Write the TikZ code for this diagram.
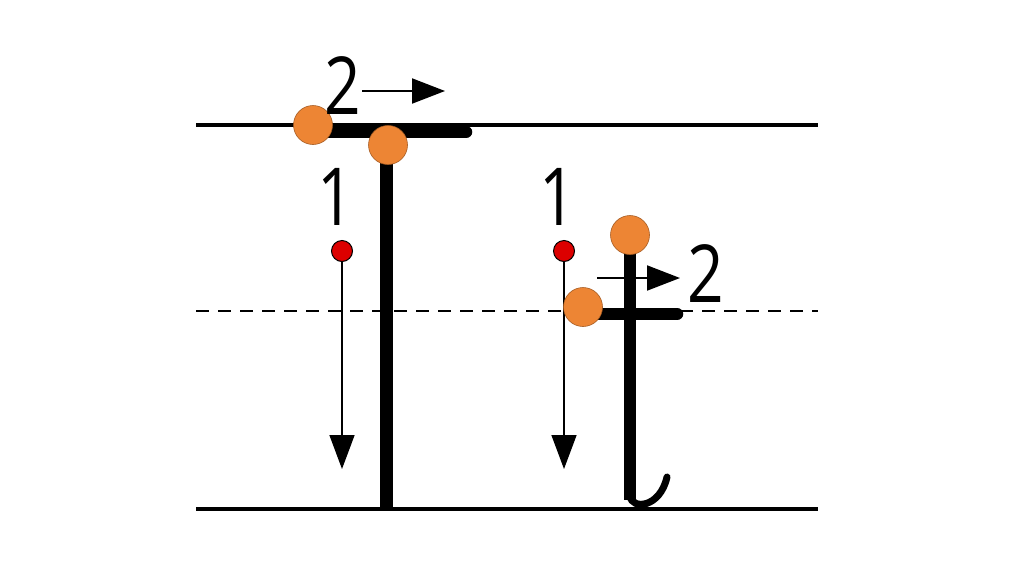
\documentclass[tikz,border=0pt]{standalone}
\usepackage{fontspec}
\setmainfont{Open Sans}
\usetikzlibrary{arrows.meta}
\definecolor{dotorange}{RGB}{237,133,52}
\definecolor{dotred}{RGB}{220,0,0}
\newcommand{\narrowdigit}[1]{\scalebox{0.8}[1]{#1}}
\tikzset{
  guide/.style={line width=4pt},
  dashguide/.style={line width=1.5pt, dash pattern=on 13pt off 9pt},
  stroke/.style={line width=12.5pt},
  orangedot/.style={circle, fill=dotorange, draw=dotorange!70!black, line width=0.6pt, minimum size=39pt, inner sep=0pt},
  reddot/.style={circle, fill=dotred, draw=black, line width=1pt, minimum size=21pt, inner sep=0pt},
  digit/.style={font=\fontsize{80}{80}\selectfont, inner sep=0pt},
  downarrow/.style={line width=1.5pt, -{Triangle[length=34pt, width=25pt]}},
  rightarrow/.style={line width=2pt, -{Triangle[length=33pt, width=25pt]}},
}
\begin{document}
\begin{tikzpicture}[x=1pt,y=-1pt]
\useasboundingbox (0,0) rectangle (1024,574);
% guide lines
\draw[guide] (196,125) -- (818,125);
\draw[guide] (196,509) -- (818,509);
\draw[dashguide] (196,311) -- (818,311);
% left letter
\draw[stroke, line cap=round] (318,132) -- (466,132);
\draw[stroke] (386.5,145) -- (386.5,509);
\node[orangedot] (o1) at (313,125) {};
\node[orangedot] (o2) at (388,145) {};
\node[digit] (n2a) at (343,86) {\narrowdigit{2}};
\coordinate (a2s) at (362,91);
\coordinate (a2e) at (445,91);
\draw[rightarrow] (a2s) -- (a2e);
\node[digit] (n1a) at (336,197) {\narrowdigit{1}};
\node[reddot] (r1) at (342,251) {};
\coordinate (d1e) at (342,469);
\draw[downarrow] (r1) -- (d1e);
% right letter
\node[digit] (n1b) at (558,197) {\narrowdigit{1}};
\node[reddot] (r2) at (564,251) {};
\coordinate (d2e) at (564,469);
\draw[downarrow] (r2) -- (d2e);
\draw[stroke] (630,250) -- (630,500);
\draw[line width=7pt, line cap=round] (630,496) .. controls (632,510) and (660,508) .. (667,477);
\draw[stroke, line cap=round] (595,314) -- (677,314);
\node[orangedot] (o3) at (630,235) {};
\node[orangedot] (o4) at (583,307) {};
\coordinate (a3s) at (597,278);
\coordinate (a3e) at (680,278);
\draw[rightarrow] (a3s) -- (a3e);
\node[digit] (n2b) at (706,274) {\narrowdigit{2}};
\end{tikzpicture}
\end{document}
